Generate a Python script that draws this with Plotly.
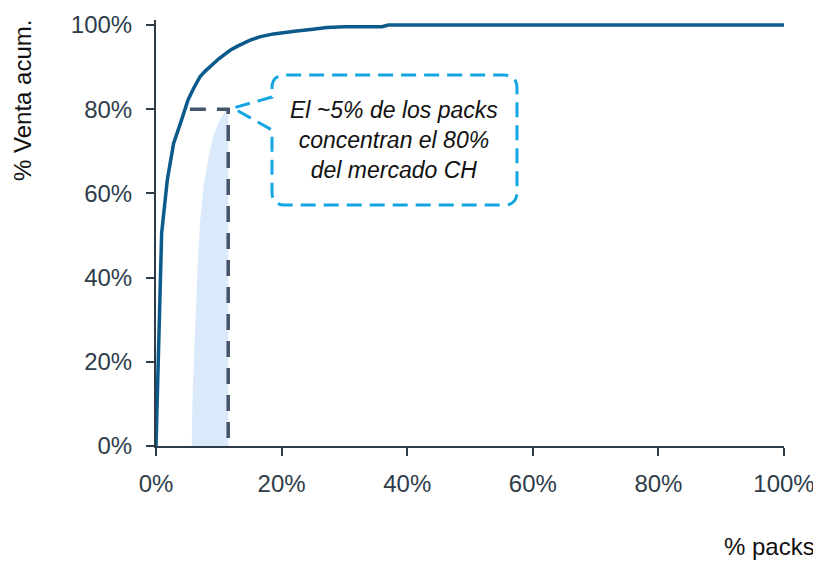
import plotly.graph_objects as go

# Cumulative curve (fractions)
pct_packs = [0, 0.009, 0.018, 0.028, 0.039, 0.051, 0.060, 0.070, 0.078, 0.086, 0.100,
             0.118, 0.130, 0.150, 0.165, 0.187, 0.200, 0.224, 0.250, 0.272, 0.300,
             0.330, 0.360, 0.370, 1.0]
pct_venta = [0, 0.506, 0.632, 0.719, 0.767, 0.822, 0.850, 0.877, 0.890, 0.901, 0.920,
             0.940, 0.950, 0.964, 0.972, 0.979, 0.982, 0.986, 0.990, 0.994, 0.996,
             0.996, 0.996, 1.0, 1.0]

# Shaded region
shade_x = [0.057, 0.058, 0.060, 0.062, 0.066, 0.070, 0.076, 0.083, 0.091, 0.100, 0.108, 0.115, 0.115, 0.057]
shade_y = [0.0, 0.110, 0.190, 0.268, 0.420, 0.530, 0.620, 0.680, 0.735, 0.770, 0.790, 0.803, 0.0, 0.0]

# Reference lines
ref_x = [0.054, 0.115, 0.115]
ref_y = [0.80, 0.80, 0.0]

tick_vals = [0, 0.2, 0.4, 0.6, 0.8, 1.0]
tick_text = ["0%", "20%", "40%", "60%", "80%", "100%"]

callout_text = "<i>El ~5% de los packs<br>concentran el 80%<br>del mercado CH</i>"

FONT = "Liberation Sans, Arial, sans-serif"

fig = go.Figure()
fig.add_trace(go.Scatter(x=shade_x, y=shade_y, fill="toself", mode="lines",
                         line=dict(width=0), fillcolor="#dbeafb", hoverinfo="skip"))
fig.add_trace(go.Scatter(x=ref_x, y=ref_y, mode="lines",
                         line=dict(color="#44546a", width=3.5, dash="16px,11px")))
fig.add_trace(go.Scatter(x=pct_packs, y=pct_venta, mode="lines",
                         line=dict(color="#0b5a8c", width=3.5)))

# Callout shape (data coordinates)
L, R, T, B = 0.1847, 0.5748, 0.8812, 0.5724
rx, ry = 0.0207, 0.0309
tipx, tipy = 0.1226, 0.8029
up, lo = 0.829, 0.7506
path = (f"M {L},{up} L {tipx},{tipy} L {L},{lo} L {L},{B+ry} Q {L},{B} {L+rx},{B} "
        f"L {R-rx},{B} Q {R},{B} {R},{B+ry} L {R},{T-ry} Q {R},{T} {R-rx},{T} "
        f"L {L+rx},{T} Q {L},{T} {L},{T-ry} Z")
fig.add_shape(type="path", path=path, xref="x", yref="y",
              line=dict(color="#13a6e0", width=3, dash="15px,8px"), fillcolor="rgba(0,0,0,0)")

fig.add_annotation(x=(L+R)/2, y=(T+B)/2, xref="x", yref="y", text=callout_text,
                   showarrow=False, font=dict(family=FONT, size=23, color="#111111"),
                   align="center")

fig.update_layout(
    width=813, height=553,
    margin=dict(l=148, r=37, t=12, b=115),
    plot_bgcolor="white", paper_bgcolor="white",
    showlegend=False,
    font=dict(family=FONT, size=24, color="#2e3c4a"),
)
fig.add_annotation(x=1.0, xref="paper", xanchor="right", xshift=33,
                   y=0, yref="paper", yanchor="middle", yshift=-100,
                   text="% packs", showarrow=False,
                   font=dict(family=FONT, size=24, color="#111111"))
fig.add_annotation(x=0, xref="paper", xanchor="center", xshift=-134,
                   y=1.0, yref="paper", yanchor="middle", yshift=-81,
                   text="% Venta acum.", textangle=-90, showarrow=False,
                   font=dict(family=FONT, size=24, color="#111111"))

fig.update_xaxes(range=[0, 1], tickvals=tick_vals, ticktext=tick_text, automargin=False,
                 showgrid=False, zeroline=False, showline=True, linecolor="#2e3c4a",
                 linewidth=2, ticks="outside", ticklen=8, tickwidth=2, tickcolor="#2e3c4a",
                 ticklabelstandoff=7)
fig.update_yaxes(range=[0, 1.012], tickvals=tick_vals, ticktext=tick_text, automargin=False,
                 showgrid=False, zeroline=False, showline=True, linecolor="#2e3c4a",
                 linewidth=2, ticks="outside", ticklen=8, tickwidth=2, tickcolor="#2e3c4a",
                 ticklabelstandoff=9)

fig.write_html("out.html")
